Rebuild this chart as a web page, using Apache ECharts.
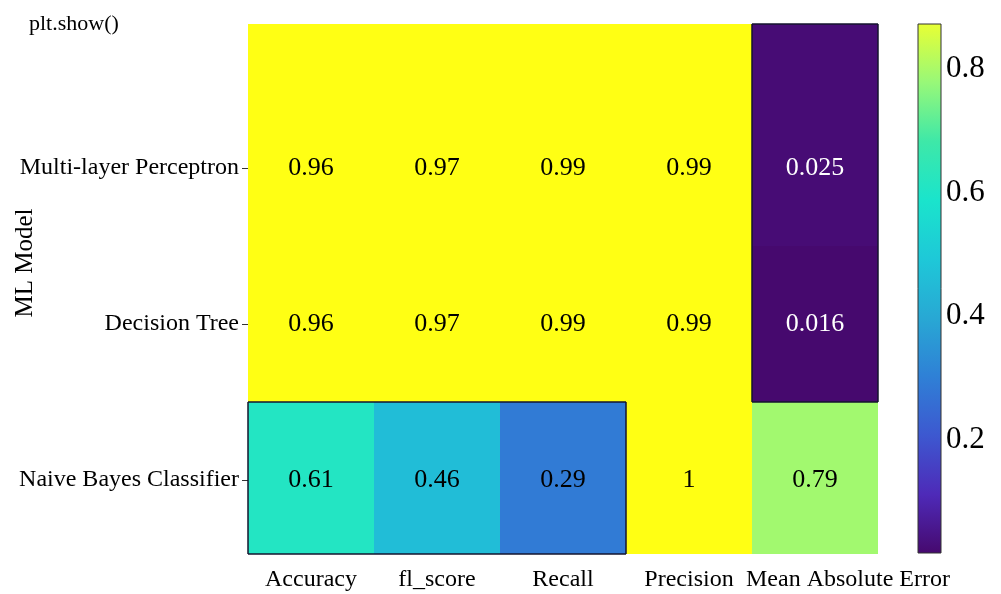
<!DOCTYPE html>
<html>
<head>
<meta charset="utf-8">
<script src="https://cdn.jsdelivr.net/npm/echarts@6/dist/echarts.min.js"></script>
<style>
  html, body { margin: 0; padding: 0; background: #fff; }
  #chart { width: 1001px; height: 594px; }
</style>
</head>
<body>
<div id="chart"></div>
<script>
// Metrics (columns) and models (rows, listed bottom to top)
const metrics = ['Accuracy', 'fl_score', 'Recall', 'Precision', 'Mean Absolute Error'];
const models = ['Naive Bayes Classifier', 'Decision Tree', 'Multi-layer Perceptron'];

// Scores per model, in the order of `metrics`
const naiveBayes = [0.61, 0.46, 0.29, 1, 0.79];
const decisionTree = [0.96, 0.97, 0.99, 0.99, 0.016];
const mlp = [0.96, 0.97, 0.99, 0.99, 0.025];

// Colour scale range and colour-bar ticks
const scaleMin = 0.016;
const scaleMax = 0.873;
const barTicks = [0.2, 0.4, 0.6, 0.8];

// Bright viridis-like palette, low to high; values above the scale are drawn in overColor
const palette = ['#46096e', '#4e2ab8', '#3d58d0', '#2f80d6', '#28a8d4',
                 '#1ec8d8', '#1ae4cc', '#3ee8a8', '#98f878', '#e8ff34'];
const overColor = '#ffff14';

// Row extent on the y value axis (rows sit at 0, 1, 2; outer rows run to the plot edge)
const Y_MIN = -0.474;
const Y_MAX = 2.923;

const rows = [naiveBayes, decisionTree, mlp];
const isDark = (c, r) => r >= 0 && r < rows.length && c >= 0 && c < metrics.length && rows[r][c] < 0.65;

const cells = [];
rows.forEach((vals, r) => vals.forEach((v, c) => cells.push([c, r, v])));

const serif = 'Liberation Serif, Times New Roman, serif';
const chart = echarts.init(document.getElementById('chart'));

const gradStops = palette.map((c, i) => ({ offset: 1 - i / (palette.length - 1), color: c }));

function renderCell(params, api) {
  const c = api.value(0), r = api.value(1), v = api.value(2);
  const w = api.size([1, 0])[0];
  const xc = api.coord([c, r])[0];
  const x0 = xc - w / 2, x1 = xc + w / 2;
  const yHi = r === rows.length - 1 ? Y_MAX : r + 0.5;
  const yLo = r === 0 ? Y_MIN : r - 0.5;
  const yTop = api.coord([c, yHi])[1];
  const yBot = api.coord([c, yLo])[1];
  const yc = api.coord([c, r])[1];
  const children = [
    { type: 'rect', shape: { x: x0, y: yTop, width: w, height: yBot - yTop },
      style: { fill: api.visual('color') } }
  ];
  if (isDark(c, r)) {
    const edge = { stroke: '#15152e', lineWidth: 1.5 };
    if (!isDark(c, r + 1)) children.push({ type: 'line', shape: { x1: x0, y1: yTop, x2: x1, y2: yTop }, style: edge, z2: 5 });
    if (!isDark(c, r - 1)) children.push({ type: 'line', shape: { x1: x0, y1: yBot, x2: x1, y2: yBot }, style: edge, z2: 5 });
    if (!isDark(c - 1, r)) children.push({ type: 'line', shape: { x1: x0, y1: yTop, x2: x0, y2: yBot }, style: edge, z2: 5 });
    if (!isDark(c + 1, r)) children.push({ type: 'line', shape: { x1: x1, y1: yTop, x2: x1, y2: yBot }, style: edge, z2: 5 });
  }
  children.push({
    type: 'text', x: xc, y: yc, z2: 10,
    style: { text: String(v), fontFamily: serif, fontSize: 26,
             fill: v < 0.2 ? '#ffffff' : '#000000', align: 'center', verticalAlign: 'middle' }
  });
  return { type: 'group', children };
}

const xAxisData = metrics.map((m, i) =>
  i === metrics.length - 1 ? { value: m, textStyle: { padding: [0, 0, 0, 66] } } : m);

chart.setOption({
  backgroundColor: '#ffffff',
  animation: false,
  grid: [
    { left: 248, top: 24, width: 630, height: 530 },
    { left: 918, top: 24, width: 23, height: 529 }
  ],
  xAxis: [
    {
      type: 'category', gridIndex: 0, data: xAxisData,
      axisLine: { show: false },
      axisTick: { show: true, alignWithLabel: true, length: 6, lineStyle: { color: '#333' } },
      axisLabel: { fontFamily: serif, fontSize: 24, color: '#000', margin: 14, interval: 0 },
      splitLine: { show: false }
    },
    { type: 'value', gridIndex: 1, show: false, min: 0, max: 1 }
  ],
  yAxis: [
    {
      type: 'value', gridIndex: 0, min: Y_MIN, max: Y_MAX,
      axisLine: { show: false },
      axisTick: { show: true, length: 6, customValues: [0, 1, 2], lineStyle: { color: '#333' } },
      axisLabel: { fontFamily: serif, fontSize: 24, color: '#000', margin: 9,
                   customValues: [0, 1, 2], formatter: v => models[Math.round(v)] },
      splitLine: { show: false }
    },
    {
      type: 'value', gridIndex: 1, position: 'right', min: scaleMin, max: scaleMax,
      axisLine: { show: false },
      axisTick: { show: true, length: 5, customValues: barTicks, lineStyle: { color: '#333' } },
      axisLabel: { fontFamily: serif, fontSize: 31, color: '#000', margin: 5, customValues: barTicks,
                   formatter: v => String(v) },
      splitLine: { show: false }
    }
  ],
  visualMap: {
    show: false,
    type: 'continuous',
    seriesIndex: 0,
    dimension: 2,
    min: scaleMin,
    max: scaleMax,
    range: [scaleMin, scaleMax - 0.0001],
    inRange: { color: palette },
    outOfRange: { color: overColor }
  },
  graphic: [
    {
      type: 'text', left: 29, top: 13,
      style: { text: 'plt.show()', fontFamily: serif, fontSize: 22, fill: '#000' }
    },
    {
      type: 'text', x: 25, y: 263, rotation: Math.PI / 2,
      style: { text: 'ML Model', fontFamily: serif, fontSize: 25, fill: '#000',
               textAlign: 'center', textVerticalAlign: 'middle' }
    },
    {
      type: 'rect', shape: { x: 918, y: 24, width: 23, height: 529 },
      style: {
        fill: new echarts.graphic.LinearGradient(0, 0, 0, 1, gradStops),
        stroke: '#333', lineWidth: 1
      },
      z: 10
    }
  ],
  series: [
    {
      type: 'custom',
      xAxisIndex: 0, yAxisIndex: 0,
      data: cells,
      encode: { x: 0, y: 1 },
      renderItem: renderCell,
      emphasis: { disabled: true }
    }
  ]
});
</script>
</body>
</html>
